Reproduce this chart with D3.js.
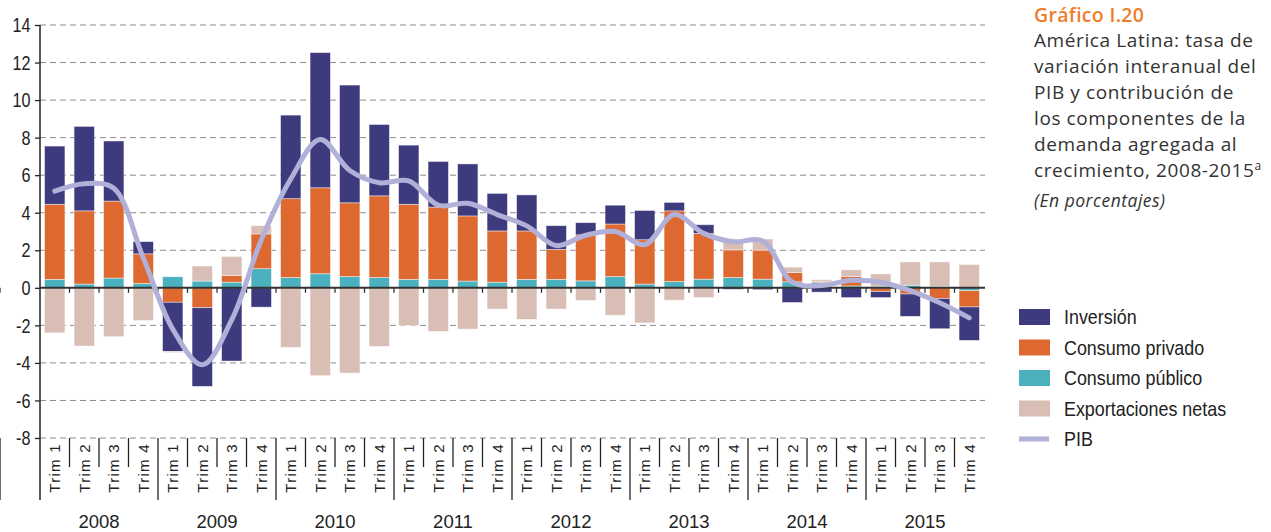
<!DOCTYPE html>
<html>
<head>
<meta charset="utf-8">
<script src="https://cdnjs.cloudflare.com/ajax/libs/d3/7.8.5/d3.min.js"></script>
<style>
body { margin: 0; background: #fff; }
svg { display: block; }
</style>
</head>
<body>
<svg width="1271" height="532"></svg>
<script>
// América Latina: contribuciones al crecimiento del PIB (puntos porcentuales)
var years = ["2008", "2009", "2010", "2011", "2012", "2013", "2014", "2015"];
var trimestres = ["Trim 1", "Trim 2", "Trim 3", "Trim 4"];
var inversion = [3.1, 4.5, 3.2, 0.65, -2.62, -4.19, -3.9, -1.03, 4.45, 7.2, 6.27, 3.8, 3.15, 2.43, 2.77, 2.0,
                 1.92, 1.26, 0.65, 1.0, 1.56, 0.45, 0.46, -0.08, -0.1, -0.78, -0.23, -0.52, -0.32, -1.19, -1.61, -1.78];
var privado = [4.0, 3.9, 4.1, 1.58, -0.77, -1.06, 0.35, 1.85, 4.2, 4.58, 3.93, 4.35, 4.0, 3.85, 3.47, 2.73,
               2.58, 1.6, 2.45, 2.8, 2.36, 3.77, 2.44, 1.47, 1.55, 0.5, 0.05, 0.5, -0.2, -0.33, -0.57, -0.87];
var publico = [0.45, 0.2, 0.52, 0.23, 0.59, 0.36, 0.3, 1.02, 0.55, 0.75, 0.6, 0.55, 0.45, 0.45, 0.36, 0.3,
               0.45, 0.45, 0.37, 0.6, 0.2, 0.33, 0.46, 0.55, 0.46, 0.32, 0.3, 0.1, 0.08, 0.14, 0.08, -0.15];
var exportaciones = [-2.4, -3.1, -2.6, -1.74, -0.06, 0.8, 1.02, 0.44, -3.17, -4.68, -4.54, -3.12, -2.0, -2.32, -2.2, -1.13,
                     -1.68, -1.13, -0.67, -1.46, -1.87, -0.66, -0.52, 0.57, 0.59, 0.28, 0.08, 0.36, 0.66, 1.24, 1.3, 1.24];
var pib = [5.15, 5.55, 5.3, 1.6, -2.2, -4.1, -1.7, 2.55, 5.8, 7.9, 6.25, 5.6, 5.7, 4.4, 4.5, 3.9,
           3.3, 2.25, 2.8, 3.0, 2.3, 3.9, 2.9, 2.45, 2.5, 0.3, 0.12, 0.4, 0.3, -0.15, -0.8, -1.6];
var yTicks = [-8, -6, -4, -2, 0, 2, 4, 6, 8, 10, 12, 14];

var keys = ["publico", "privado", "inversion", "exportaciones"];
var palette = {inversion: "#3d3a7d", privado: "#dd6830", publico: "#4bb1bf", exportaciones: "#d8beb4"};
var legendItems = [
	{key: "inversion", label: "Inversión"},
	{key: "privado", label: "Consumo privado"},
	{key: "publico", label: "Consumo público"},
	{key: "exportaciones", label: "Exportaciones netas"},
	{key: "pib", label: "PIB"}
];
var pibColor = "#b0b0d8";
var sans = "'Liberation Sans', Arial, sans-serif";
var titleFont = "'Open Sans', 'Noto Sans', sans-serif";

var svg = d3.select("svg");

var data = [];
for (var i = 0; i < pib.length; i++) {
	data.push({i: i, inversion: inversion[i], privado: privado[i], publico: publico[i], exportaciones: exportaciones[i], pib: pib[i]});
}

var x = d3.scaleBand().domain(d3.range(data.length)).range([40, 984]).paddingInner(0.31).paddingOuter(0.155);
var y = d3.scaleLinear().domain([-8, 14]).range([438, 25]);
var bw = x.bandwidth();
function edge(i) { return x(i) - (x.step() - bw) / 2; }

// gridlines
svg.append("g")
	.selectAll("line")
	.data(yTicks.filter(function(d) { return d != 0; }))
	.enter().append("line")
	.attr("x1", 40).attr("x2", 985)
	.attr("y1", function(d) { return y(d); })
	.attr("y2", function(d) { return y(d); })
	.style("stroke", "#8c8c8c")
	.style("stroke-width", 1)
	.style("stroke-dasharray", "6,4");

// stacked bars
var series = d3.stack().keys(keys).offset(d3.stackOffsetDiverging)(data);
svg.append("g")
	.selectAll("g")
	.data(series)
	.enter().append("g")
	.attr("fill", function(d) { return palette[d.key]; })
	.selectAll("rect")
	.data(function(d) { return d; })
	.enter().append("rect")
	.attr("x", function(d) { return x(d.data.i); })
	.attr("width", bw)
	.attr("y", function(d) { return y(Math.max(d[0], d[1])); })
	.attr("height", function(d) { return Math.abs(y(d[0]) - y(d[1])); })
	.style("stroke", "#fff")
	.style("stroke-opacity", 0.55)
	.style("stroke-width", 0.8);

// y axis ticks + labels (narrowed text, plain hyphen for negatives)
var sx = 0.81;
var yAxis = svg.append("g")
	.attr("transform", "translate(40,0)")
	.call(d3.axisLeft(y).tickValues(yTicks).tickSize(5).tickFormat(""));
yAxis.select(".domain").remove();
yAxis.selectAll("line").style("stroke", "#222").style("stroke-width", 1.3);

svg.append("g")
	.attr("transform", "scale(" + sx + ",1)")
	.selectAll("text")
	.data(yTicks)
	.enter().append("text")
	.attr("x", 30.5 / sx)
	.attr("y", function(d) { return y(d); })
	.attr("dy", "0.36em")
	.attr("text-anchor", "end")
	.style("font-family", sans)
	.style("font-size", "20px")
	.style("fill", "#222")
	.text(function(d) { return String(d); });

svg.append("line")
	.attr("x1", 40).attr("x2", 40).attr("y1", y(14)).attr("y2", 500)
	.style("stroke", "#222").style("stroke-width", 1.5);

// zero line with small ticks
svg.append("line")
	.attr("x1", 40).attr("x2", 985).attr("y1", y(0)).attr("y2", y(0))
	.style("stroke", "#333").style("stroke-width", 2);
svg.append("g")
	.selectAll("line")
	.data(d3.range(1, data.length + 1))
	.enter().append("line")
	.attr("x1", function(d) { return edge(d); })
	.attr("x2", function(d) { return edge(d); })
	.attr("y1", y(0)).attr("y2", y(0) + 5)
	.style("stroke", "#333").style("stroke-width", 1.3);

// quarter / year separators under the plot
svg.append("g")
	.selectAll("line")
	.data(d3.range(1, data.length + 1))
	.enter().append("line")
	.attr("x1", function(d) { return edge(d); })
	.attr("x2", function(d) { return edge(d); })
	.attr("y1", y(-8))
	.attr("y2", function(d) { return d % 4 == 0 ? 500 : 467; })
	.style("stroke", "#222").style("stroke-width", 1.3);

svg.append("g")
	.selectAll("text")
	.data(data)
	.enter().append("text")
	.attr("transform", function(d) { return "translate(" + (x(d.i) + bw / 2) + ",443) rotate(-90)"; })
	.attr("dy", "0.36em")
	.attr("text-anchor", "end")
	.style("font-family", sans)
	.style("font-size", "15px")
	.style("letter-spacing", "1.3px")
	.style("fill", "#222")
	.text(function(d) { return trimestres[d.i % 4]; });

svg.append("g")
	.selectAll("text")
	.data(years)
	.enter().append("text")
	.attr("x", function(d, j) { return edge(j * 4) + x.step() * 2; })
	.attr("y", 528)
	.attr("text-anchor", "middle")
	.style("font-family", sans)
	.style("font-size", "18.5px")
	.style("fill", "#222")
	.text(function(d) { return d; });

// PIB line
var line = d3.line()
	.x(function(d) { return x(d.i) + bw / 2; })
	.y(function(d) { return y(d.pib); })
	.curve(d3.curveCatmullRom.alpha(0.5));
svg.append("path")
	.datum(data)
	.attr("d", line)
	.style("fill", "none")
	.style("stroke", pibColor)
	.style("stroke-width", 5)
	.style("stroke-linecap", "round");

// title block
svg.append("text")
	.attr("x", 1034).attr("y", 22)
	.style("font-family", titleFont)
	.style("font-size", "19.5px")
	.style("font-weight", 600)
	.style("letter-spacing", "0.3px")
	.style("fill", "#ef7d2c")
	.text("Gráfico I.20");

var titleLines = ["América Latina: tasa de", "variación interanual del", "PIB y contribución de",
	"los componentes de la", "demanda agregada al", "crecimiento, 2008-2015"];
var tt = svg.append("g");
titleLines.forEach(function(t, k) {
	var txt = tt.append("text")
		.attr("x", 1034).attr("y", 47 + k * 26)
		.style("font-family", titleFont)
		.style("font-size", "19px")
		.style("letter-spacing", "0.6px")
		.style("fill", "#333")
		.text(t);
	if (k == titleLines.length - 1) {
		txt.append("tspan").attr("dy", -7).style("font-size", "12px").text("a");
	}
});
svg.append("text")
	.attr("x", 1034).attr("y", 207)
	.style("font-family", titleFont)
	.style("font-size", "17.5px")
	.style("font-style", "italic")
	.style("letter-spacing", "0.5px")
	.style("fill", "#333")
	.text("(En porcentajes)");

// legend
var lx = 0.895;
var legend = svg.append("g")
	.selectAll("g")
	.data(legendItems)
	.enter().append("g")
	.attr("transform", function(d, k) { return "translate(1019," + (317 + k * 30.5) + ")"; });
legend.filter(function(d) { return d.key != "pib"; })
	.append("rect")
	.attr("x", 0).attr("y", -8).attr("width", 31).attr("height", 16)
	.attr("fill", function(d) { return palette[d.key]; });
legend.filter(function(d) { return d.key == "pib"; })
	.append("line")
	.attr("x1", 0).attr("x2", 30).attr("y1", 0).attr("y2", 0)
	.style("stroke", pibColor).style("stroke-width", 5);
legend.append("text")
	.attr("x", 45 / lx).attr("y", 0).attr("dy", "0.36em")
	.attr("transform", "scale(" + lx + ",1)")
	.style("font-family", sans)
	.style("font-size", "20px")
	.style("fill", "#222")
	.text(function(d) { return d.label; });
</script>
</body>
</html>
